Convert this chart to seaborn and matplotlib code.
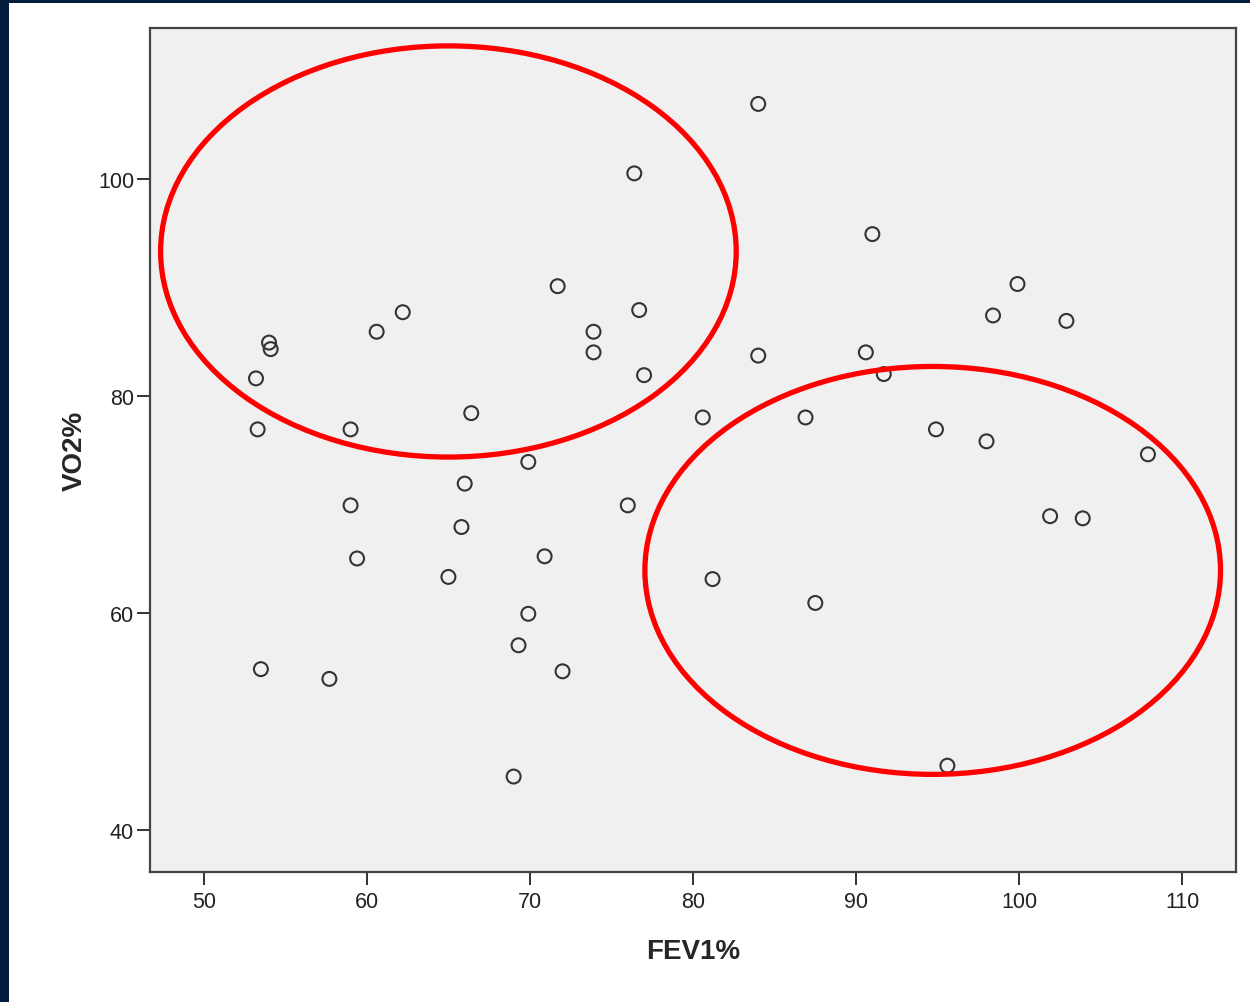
import matplotlib
matplotlib.use("Agg")
import matplotlib.pyplot as plt
from matplotlib.patches import Ellipse, Rectangle
import pandas as pd
import seaborn as sns

# Scatter values
fev1 = [84.0, 76.4, 91.0, 71.7, 99.9, 62.2, 76.7, 98.4, 102.9, 60.6,
        73.9, 54.0, 54.1, 73.9, 84.0, 90.6, 77.0, 91.7, 53.2, 66.4,
        80.6, 86.9, 53.3, 59.0, 94.9, 98.0, 107.9, 69.9, 66.0, 59.0,
        76.0, 101.9, 103.9, 65.8, 59.4, 70.9, 65.0, 81.2, 69.9, 87.5,
        69.3, 53.5, 57.7, 72.0, 69.0, 95.6]
vo2 = [106.9, 100.5, 94.9, 90.1, 90.3, 87.7, 87.9, 87.4, 86.9, 85.9,
       85.9, 84.9, 84.3, 84.0, 83.7, 84.0, 81.9, 82.0, 81.6, 78.4,
       78.0, 78.0, 76.9, 76.9, 76.9, 75.8, 74.6, 73.9, 71.9, 69.9,
       69.9, 68.9, 68.7, 67.9, 65.0, 65.2, 63.3, 63.1, 59.9, 60.9,
       57.0, 54.8, 53.9, 54.6, 44.9, 45.9]

# Highlight circles: centre x, centre y, width, height (data units)
ellipse_centres = [(65.0, 93.3), (94.7, 63.9)]
ellipse_sizes = [(35.3, 37.9), (35.3, 37.6)]

x_ticks = [50, 60, 70, 80, 90, 100, 110]
y_ticks = [40, 60, 80, 100]

df = pd.DataFrame({"FEV1%": fev1, "VO2%": vo2})

sns.set_style("white")
plt.rcParams["font.family"] = ["Liberation Sans", "DejaVu Sans"]

fig = plt.figure(figsize=(12.5, 10.03), dpi=100)
fig.patch.set_facecolor("white")
ax = fig.add_axes([0.12, 0.1296, 0.8688, 0.8415])
ax.set_facecolor("#f0f0f0")

sns.scatterplot(data=df, x="FEV1%", y="VO2%", ax=ax, marker="o", s=100,
                facecolor="none", edgecolor="#333333", linewidth=1.5, zorder=3)

# red rings
for (cx, cy), (w, h) in zip(ellipse_centres, ellipse_sizes):
    ax.add_patch(Ellipse((cx, cy), w, h, fill=False, edgecolor="#ff0000",
                         linewidth=3.8, zorder=4))

ax.set_xlim(46.7, 113.3)
ax.set_ylim(36.1, 113.9)
ax.set_xticks(x_ticks)
ax.set_yticks(y_ticks)
ax.tick_params(axis="both", direction="out", length=9.5, width=1.4,
               bottom=True, left=True,
               color="#333333", labelsize=15.5, labelcolor="#222222")
ax.tick_params(axis="x", pad=4)
ax.tick_params(axis="y", pad=2)
for sp in ax.spines.values():
    sp.set_color("#444444")
    sp.set_linewidth(1.6)

ax.set_xlabel("FEV1%", fontsize=20, fontweight="bold", labelpad=19)
ax.set_ylabel("VO2%", fontsize=20, fontweight="bold", labelpad=7)

# dark frame strips at left and top edge of the picture
fig.patches.append(Rectangle((0, 0), 9 / 1250, 1, transform=fig.transFigure,
                             facecolor="#021d3b", edgecolor="none", zorder=10))
fig.patches.append(Rectangle((0, 1 - 4 / 1003), 1, 4 / 1003, transform=fig.transFigure,
                             facecolor="#021d3b", edgecolor="none", zorder=10))

fig.savefig("out.png", dpi=100)
